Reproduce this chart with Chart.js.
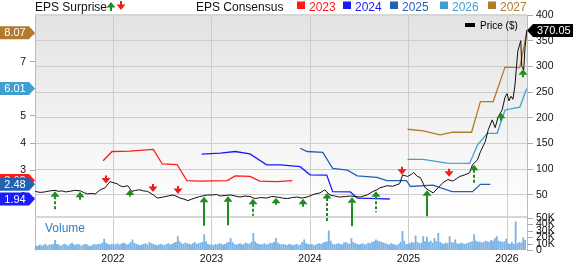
<!DOCTYPE html>
<html>
<head>
<meta charset="utf-8">
<script src="https://cdn.jsdelivr.net/npm/chart.js@4.4.1/dist/chart.umd.min.js"></script>
<style>
  html, body { margin: 0; padding: 0; background: #fff; }
  canvas { display: block; }
</style>
</head>
<body>
<canvas id="epsChart" width="573" height="264"></canvas>
<script>
// price (weekly-ish closes, $)
const priceDates = [2021.21, 2021.26, 2021.31, 2021.36, 2021.41, 2021.45, 2021.48, 2021.52, 2021.56, 2021.61, 2021.67, 2021.70, 2021.74, 2021.78, 2021.82, 2021.87, 2021.92, 2021.97,
  2022.00, 2022.04, 2022.07, 2022.10, 2022.15, 2022.19, 2022.23, 2022.27, 2022.31, 2022.35, 2022.41, 2022.45, 2022.51, 2022.56, 2022.61, 2022.65, 2022.68, 2022.72, 2022.76, 2022.80, 2022.83, 2022.88, 2022.91, 2022.96,
  2023.01, 2023.05, 2023.09, 2023.14, 2023.19, 2023.24, 2023.29, 2023.34, 2023.39, 2023.44, 2023.50, 2023.56, 2023.61, 2023.67, 2023.72, 2023.77, 2023.82, 2023.87, 2023.92, 2023.97,
  2024.01, 2024.05, 2024.10, 2024.15, 2024.20, 2024.25, 2024.30, 2024.36, 2024.41, 2024.46, 2024.51, 2024.58, 2024.64, 2024.68, 2024.71, 2024.75, 2024.78, 2024.84, 2024.91, 2024.94, 2024.99,
  2025.03, 2025.05, 2025.09, 2025.12, 2025.17, 2025.20, 2025.25, 2025.30, 2025.35, 2025.40, 2025.45, 2025.49, 2025.52, 2025.57, 2025.62, 2025.65, 2025.70, 2025.73, 2025.78, 2025.81, 2025.85, 2025.88, 2025.91, 2025.95, 2025.98,
  2026.00, 2026.02, 2026.04, 2026.06, 2026.08, 2026.11, 2026.14, 2026.15, 2026.17, 2026.18, 2026.20];
const priceVals = [57, 55, 56, 58, 59, 57, 58, 56, 57, 59, 58, 55, 52, 53, 52, 60, 64, 76,
  74, 72, 68, 66, 68, 57, 59, 60, 58, 57, 50, 44, 46, 48, 50, 47, 44, 42, 39, 42, 44, 47, 48, 50,
  50, 51, 48, 49, 50, 48, 46, 48, 47, 43, 45, 44, 47, 46, 44, 43, 45, 46, 44, 46,
  49, 52, 54, 60, 50, 48, 46, 47, 48, 47, 46, 50, 57, 60, 64, 66, 68, 67, 72, 89, 86,
  90, 94, 86, 84, 64, 60, 54, 64, 74, 80, 77, 82, 86, 89, 93, 109, 118, 134, 154, 177, 196, 181, 202, 215, 240,
  247, 233, 242, 236, 262, 330, 350, 300, 293, 330, 370.05];

// EPS consensus by fiscal year
const eps2023Dates = [2021.90, 2021.99, 2022.17, 2022.41, 2022.50, 2022.65, 2022.75, 2022.88, 2023.16, 2023.24, 2023.39, 2023.49, 2023.66, 2023.82];
const eps2023 = [3.35, 3.69, 3.70, 3.77, 3.23, 3.21, 2.62, 2.60, 2.62, 2.79, 2.77, 2.60, 2.58, 2.62];
const eps2024Dates = [2022.90, 2023.09, 2023.24, 2023.39, 2023.56, 2023.70, 2023.90, 2024.00, 2024.17, 2024.23, 2024.41, 2024.48, 2024.68, 2024.81];
const eps2024 = [3.59, 3.63, 3.69, 3.60, 3.20, 3.20, 3.13, 2.83, 2.82, 2.21, 2.20, 1.97, 1.95, 1.94];
const eps2025Dates = [2023.90, 2023.97, 2024.13, 2024.23, 2024.38, 2024.48, 2024.68, 2024.78, 2024.98, 2025.02, 2025.25, 2025.44, 2025.65, 2025.73, 2025.83];
const eps2025 = [3.81, 3.69, 3.66, 3.07, 3.00, 2.79, 2.74, 2.62, 2.62, 2.40, 2.45, 2.21, 2.21, 2.48, 2.48];
const eps2026Dates = [2024.99, 2025.15, 2025.39, 2025.62, 2025.70, 2025.80, 2025.90, 2025.98, 2026.13, 2026.20];
const eps2026 = [3.40, 3.40, 3.26, 3.25, 3.93, 4.36, 4.36, 5.22, 5.32, 6.01];
const eps2027Dates = [2024.99, 2025.15, 2025.32, 2025.45, 2025.64, 2025.73, 2025.86, 2025.98, 2026.13, 2026.20];
const eps2027 = [4.51, 4.45, 4.30, 4.40, 4.40, 5.53, 5.53, 6.80, 6.78, 8.07];

// EPS surprises: date, beat (1) / miss (-1), size
const surpriseDates = [2021.41, 2021.66, 2021.93, 2022.17, 2022.41, 2022.66, 2022.92, 2023.17, 2023.42, 2023.65, 2023.93, 2024.17, 2024.43, 2024.67, 2024.93, 2025.19, 2025.41, 2025.66, 2025.94, 2026.16];
const surpriseBeat = [1, 1, -1, 1, -1, -1, 1, 1, 1, 1, 1, 1, 1, 1, -1, 1, -1, 1, 1, 1];
const surpriseSize = [18, 8, 8, 7, 8, 8, 29, 29, 17, 7, 8, 28, 29, 21, 8, 26, 8, 19, 8, 8];

// weekly volume (thousands)
const volStart = 2021.22;
const volumes = [
  6, 6, 8, 6, 8, 9, 6, 8, 8, 9, 15, 9, 8, 6, 8, 9, 8, 6, 9, 11, 8, 8, 9, 8, 6, 8, 9, 8, 6, 6, 8, 9, 8, 9, 9, 11, 17, 11, 9, 8, 9,
  9, 8, 10, 8, 9, 11, 10, 8, 9, 12, 16, 11, 9, 8, 7, 8, 9, 10, 8, 12, 10, 9, 8, 7, 8, 9, 8, 7, 9, 10, 8, 9, 11, 12, 21, 13, 10, 9, 11, 10, 9, 8, 10, 12, 9, 10, 11, 12, 24, 13, 9, 8,
  8, 7, 9, 8, 10, 9, 8, 9, 11, 12, 18, 12, 9, 8, 9, 10, 8, 9, 11, 10, 9, 12, 26, 13, 10, 9, 8, 9, 10, 8, 9, 11, 10, 12, 18, 11, 9, 8, 9, 8, 7, 9, 8, 7, 8, 9, 7, 8, 12, 16, 10, 9,
  8, 9, 7, 8, 9, 10, 9, 11, 12, 13, 30, 14, 9, 8, 9, 10, 9, 8, 11, 12, 10, 9, 18, 12, 10, 9, 8, 9, 10, 8, 9, 11, 10, 12, 13, 16, 14, 13, 12, 11, 10, 9, 8, 10, 9, 8, 7, 9, 12, 29, 14, 9,
  9, 10, 12, 11, 22, 12, 10, 11, 21, 13, 20, 12, 14, 11, 18, 13, 26, 12, 10, 9, 11, 10, 21, 12, 11, 16, 10, 9, 11, 10, 9, 10, 11, 12, 13, 24, 14, 12, 13, 11, 12, 14, 13, 12, 15, 14, 18, 21, 14, 13, 12, 13,
  17, 10, 9, 12, 9, 44, 10, 12, 11, 19, 15];

const yearTicks = [2022, 2023, 2024, 2025, 2026];
const priceTicks = [50, 100, 150, 200, 250, 300, 350, 400];
const epsTicks = [2, 3, 4, 5, 6, 7, 8];
const volTicks = [0, 10, 20, 30, 40, 50];
const volPanelTop = 51.6; // volume value at the panel divider

const FONT = "'Liberation Sans', Arial, sans-serif";
const tickFont = { family: FONT, size: 10.5 };
const colors = { y2023: '#ff1a1a', y2024: '#1a1aff', y2025: '#2262b2', y2026: '#3f9fd2', y2027: '#b27a2c' };

const pts = (xs, ys) => xs.map((x, i) => ({ x: x, y: ys[i] }));
const epsLine = (label, xs, ys, color) => ({
  label: label, data: pts(xs, ys), yAxisID: 'yEps', borderColor: color, borderWidth: 1.3,
  pointRadius: 0, tension: 0, fill: false
});

function priceAt(t) {
  for (let i = 1; i < priceDates.length; i++) {
    if (priceDates[i] >= t) {
      const f = (t - priceDates[i - 1]) / (priceDates[i] - priceDates[i - 1]);
      return priceVals[i - 1] + f * (priceVals[i] - priceVals[i - 1]);
    }
  }
  return priceVals[priceVals.length - 1];
}

const dashedArrows = [0, 8, 9, 11, 13, 17];

function upArrow(ctx, x, tip, len, color, dashed) {
  ctx.strokeStyle = color; ctx.fillStyle = color; ctx.lineWidth = 2;
  ctx.setLineDash(dashed ? [3, 2] : []);
  ctx.beginPath(); ctx.moveTo(x, tip + 5); ctx.lineTo(x, tip + len); ctx.stroke();
  ctx.setLineDash([]);
  ctx.beginPath(); ctx.moveTo(x, tip); ctx.lineTo(x - 4.5, tip + 5.5); ctx.lineTo(x + 4.5, tip + 5.5); ctx.closePath(); ctx.fill();
}
function downArrow(ctx, x, tip, len, color) {
  ctx.strokeStyle = color; ctx.fillStyle = color; ctx.lineWidth = 2;
  ctx.beginPath(); ctx.moveTo(x, tip - len); ctx.lineTo(x, tip - 5); ctx.stroke();
  ctx.beginPath(); ctx.moveTo(x, tip); ctx.lineTo(x - 4.5, tip - 5.5); ctx.lineTo(x + 4.5, tip - 5.5); ctx.closePath(); ctx.fill();
}
function leftTag(ctx, y, color, txt) {
  ctx.beginPath();
  ctx.moveTo(0, y - 6.5); ctx.lineTo(29, y - 6.5); ctx.lineTo(35, y); ctx.lineTo(29, y + 6.5); ctx.lineTo(0, y + 6.5);
  ctx.closePath(); ctx.fillStyle = color; ctx.fill();
  ctx.fillStyle = '#fff'; ctx.font = '11px ' + FONT; ctx.textAlign = 'center'; ctx.textBaseline = 'middle';
  ctx.fillText(txt, 15, y + 0.5);
}

const overlay = {
  id: 'overlay',
  beforeDraw(chart) {
    const { ctx, chartArea: a, scales } = chart;
    const split = scales.yVol.getPixelForValue(volPanelTop);
    const g = ctx.createLinearGradient(0, a.top, 0, split);
    g.addColorStop(0, '#e3e3e3');
    g.addColorStop(1, '#ffffff');
    ctx.save();
    ctx.fillStyle = g;
    ctx.fillRect(a.left, a.top, a.right - a.left, split - a.top);
    ctx.restore();
  },
  beforeDatasetsDraw(chart) {
    const { ctx, chartArea: a, scales } = chart;
    const yv = scales.yVol;
    const split = yv.getPixelForValue(volPanelTop);
    ctx.save();
    ctx.fillStyle = '#d6d6d6';
    ctx.fillRect(a.left, split - 1, a.right - a.left, 2);
    ctx.fillRect(a.left, a.top - 1, a.right - a.left, 2);
    ctx.fillStyle = '#2f7fc1';
    ctx.font = '12px ' + FONT; ctx.textAlign = 'left'; ctx.textBaseline = 'middle';
    ctx.fillText('Volume', a.left + 10, split + 12);
    // volume axis ticks and labels
    ctx.strokeStyle = '#aaa'; ctx.lineWidth = 1;
    ctx.fillStyle = '#111';
    ctx.font = '10.5px ' + FONT;
    volTicks.forEach(v => {
      const y = Math.round(yv.getPixelForValue(v)) + 0.5;
      ctx.beginPath(); ctx.moveTo(a.right, y); ctx.lineTo(a.right + 6, y); ctx.stroke();
      ctx.fillText(v === 0 ? '0' : v + 'K', a.right + 9, y);
    });
    ctx.restore();
  },
  afterDatasetsDraw(chart) {
    const { ctx, scales } = chart;
    const x = scales.x, yp = scales.yPrice;
    ctx.save();
    surpriseDates.forEach((d, i) => {
      const px = Math.round(x.getPixelForValue(d));
      const py = yp.getPixelForValue(priceAt(d));
      if (surpriseBeat[i] > 0) upArrow(ctx, px, py + 1, surpriseSize[i], '#1f8c1f', dashedArrows.includes(i));
      else downArrow(ctx, px, py - 3, surpriseSize[i], '#ee1c1c');
    });
    // price legend
    ctx.fillStyle = '#000';
    ctx.fillRect(465, 23, 10, 4);
    ctx.font = '10px ' + FONT; ctx.textAlign = 'left'; ctx.textBaseline = 'middle';
    ctx.fillText('Price ($)', 480, 26);
    ctx.restore();
  },
  afterDraw(chart) {
    const { ctx, chartArea: a, scales } = chart;
    ctx.save();
    // header
    ctx.font = '12px ' + FONT; ctx.textBaseline = 'alphabetic'; ctx.textAlign = 'left';
    ctx.fillStyle = '#111';
    ctx.fillText('EPS Surprise', 35, 10.5);
    upArrow(ctx, 111, 2, 9, '#1f8c1f', false);
    downArrow(ctx, 121, 10, 9, '#ee1c1c');
    ctx.fillStyle = '#111';
    ctx.fillText('EPS Consensus', 196, 10.5);
    const items = [['2023', colors.y2023, 297], ['2024', colors.y2024, 343], ['2025', colors.y2025, 390], ['2026', colors.y2026, 440], ['2027', colors.y2027, 488]];
    items.forEach(([t, c, x0]) => {
      ctx.fillStyle = c;
      ctx.fillRect(x0, 1.5, 8, 7.5);
      ctx.fillText(t, x0 + 12, 10.5);
    });
    // left value tags
    const ye = scales.yEps;
    const tags = [[eps2023, colors.y2023], [eps2027, colors.y2027], [eps2026, colors.y2026], [eps2025, colors.y2025], [eps2024, colors.y2024]];
    tags.forEach(([arr, c]) => {
      const v = arr[arr.length - 1];
      leftTag(ctx, ye.getPixelForValue(v), c, v.toFixed(2));
    });
    // last price tag
    const last = priceVals[priceVals.length - 1];
    const y = scales.yPrice.getPixelForValue(last);
    ctx.beginPath();
    ctx.moveTo(a.right, y); ctx.lineTo(a.right + 6, y - 6.5); ctx.lineTo(573, y - 6.5); ctx.lineTo(573, y + 6.5); ctx.lineTo(a.right + 6, y + 6.5);
    ctx.closePath(); ctx.fillStyle = '#000'; ctx.fill();
    ctx.fillStyle = '#fff'; ctx.font = '11px ' + FONT; ctx.textAlign = 'left'; ctx.textBaseline = 'middle';
    ctx.fillText(last.toFixed(2), a.right + 10, y + 0.5);
    ctx.restore();
  }
};

const ctx = document.getElementById('epsChart').getContext('2d');
const chart = new Chart(ctx, {
  type: 'line',
  data: {
    datasets: [
      { label: 'Price ($)', data: pts(priceDates, priceVals), yAxisID: 'yPrice', borderColor: '#111', borderWidth: 1, pointRadius: 0, tension: 0 },
      epsLine('2023', eps2023Dates, eps2023, colors.y2023),
      epsLine('2024', eps2024Dates, eps2024, colors.y2024),
      epsLine('2025', eps2025Dates, eps2025, colors.y2025),
      epsLine('2026', eps2026Dates, eps2026, colors.y2026),
      epsLine('2027', eps2027Dates, eps2027, colors.y2027),
      {
        type: 'bar', label: 'Volume', yAxisID: 'yVol',
        data: volumes.map((v, i) => ({ x: volStart + i * 7 / 365.25, y: v })),
        backgroundColor: '#7db3e2', barThickness: 1.2, grouped: false
      }
    ]
  },
  options: {
    responsive: false,
    animation: false,
    devicePixelRatio: 1,
    layout: { padding: { top: 15, left: 0, right: 0, bottom: 0 } },
    plugins: { legend: { display: false }, tooltip: { enabled: false } },
    scales: {
      x: {
        type: 'linear', min: 2021.208, max: 2026.203, offset: false,
        afterBuildTicks: s => { s.ticks = yearTicks.map(v => ({ value: v })); },
        afterFit: s => { s.height = 14; },
        grid: { color: '#cdcdcd', drawTicks: false, offset: false },
        border: { display: false },
        ticks: { font: tickFont, color: '#111', padding: 3, maxRotation: 0, autoSkip: false, callback: v => String(v) }
      },
      yEps: {
        position: 'left', min: 0.06, max: 8.72,
        afterBuildTicks: s => { s.ticks = epsTicks.map(v => ({ value: v })); },
        afterFit: s => { s.width = 35; },
        grid: { drawOnChartArea: false, tickLength: 5, tickColor: '#aaa' },
        border: { color: '#bbb' },
        ticks: { font: tickFont, color: '#111', padding: 4, autoSkip: false }
      },
      yPrice: {
        position: 'right', min: -57, max: 400,
        afterBuildTicks: s => { s.ticks = priceTicks.map(v => ({ value: v })); },
        afterFit: s => { s.width = 46; },
        grid: { color: '#cdcdcd', tickLength: 6, tickColor: '#aaa' },
        border: { color: '#bbb' },
        ticks: { font: tickFont, color: '#111', padding: 3, autoSkip: false }
      },
      yVol: {
        display: false, min: 0, max: 367
      }
    }
  },
  plugins: [overlay]
});
</script>
</body>
</html>
